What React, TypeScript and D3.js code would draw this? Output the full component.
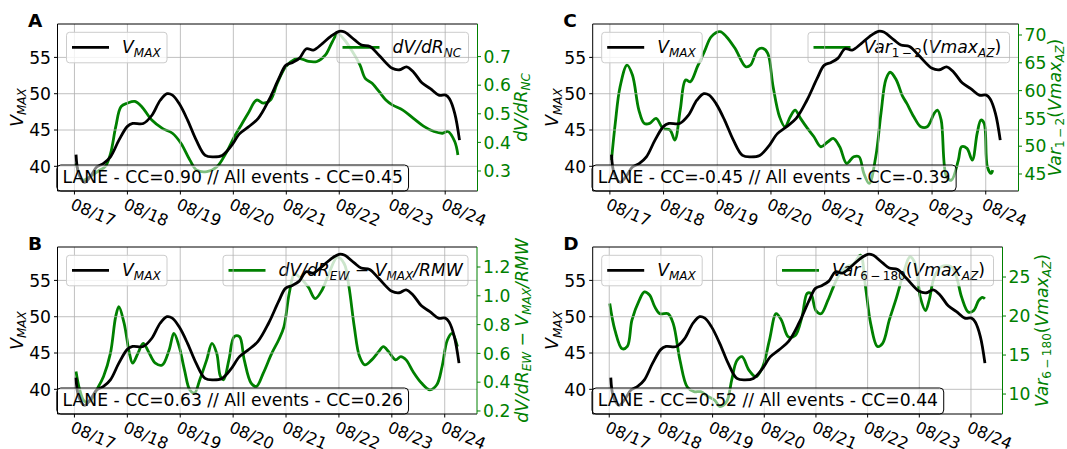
import React from "react";
import * as d3 from "d3";

// ---------- DATA ----------
const dayTicks = [0, 1, 2, 3, 4, 5, 6, 7];
const dayLabels = ["08/17", "08/18", "08/19", "08/20", "08/21", "08/22", "08/23", "08/24"];
const vmaxTicks = [40, 45, 50, 55];

const vmaxDays = [0.03, 0.08, 0.19, 0.3, 0.42, 0.55, 0.68, 0.84, 1.0, 1.1, 1.3, 1.46, 1.62, 1.75, 1.85, 1.98, 2.14, 2.3, 2.47, 2.63, 2.79, 2.95, 3.12, 3.28, 3.47, 3.67, 3.86, 3.99, 4.12, 4.25, 4.38, 4.51, 4.68, 4.84, 5.0, 5.1, 5.29, 5.42, 5.58, 5.75, 6.0, 6.14, 6.27, 6.4, 6.56, 6.72, 6.88, 7.01, 7.08, 7.18, 7.27];
const vmaxValues = [41.6, 39.0, 37.8, 38.6, 39.9, 40.4, 41.3, 43.6, 45.5, 45.9, 45.9, 47.0, 49.1, 50.0, 49.8, 48.6, 46.3, 43.6, 41.5, 41.3, 41.5, 42.7, 44.5, 45.4, 46.6, 49.1, 52.1, 53.9, 54.3, 54.9, 56.2, 56.0, 56.9, 57.9, 58.6, 58.5, 57.4, 56.7, 56.5, 55.3, 53.5, 53.3, 53.7, 53.0, 51.5, 50.7, 49.8, 49.8, 49.3, 47.3, 43.6];

const dvdrNcDays = [0.03, 0.16, 0.29, 0.45, 0.58, 0.68, 0.78, 0.88, 1.0, 1.14, 1.27, 1.46, 1.66, 1.85, 2.01, 2.18, 2.31, 2.5, 2.69, 2.86, 3.02, 3.15, 3.28, 3.44, 3.57, 3.7, 3.83, 3.99, 4.16, 4.25, 4.42, 4.58, 4.74, 4.87, 4.97, 5.1, 5.23, 5.39, 5.49, 5.62, 5.75, 5.88, 6.0, 6.2, 6.4, 6.59, 6.79, 6.95, 7.05, 7.18, 7.24];
const dvdrNcValues = [0.327, 0.268, 0.28, 0.3, 0.315, 0.36, 0.455, 0.525, 0.537, 0.543, 0.525, 0.478, 0.449, 0.432, 0.397, 0.338, 0.303, 0.298, 0.315, 0.362, 0.42, 0.461, 0.502, 0.548, 0.537, 0.548, 0.607, 0.665, 0.691, 0.694, 0.683, 0.683, 0.706, 0.752, 0.78, 0.758, 0.723, 0.671, 0.624, 0.607, 0.578, 0.548, 0.531, 0.513, 0.484, 0.457, 0.438, 0.432, 0.438, 0.403, 0.356];

const dvdrEwDays = [0.03, 0.1, 0.19, 0.29, 0.42, 0.55, 0.68, 0.78, 0.84, 0.94, 1.04, 1.1, 1.2, 1.3, 1.4, 1.53, 1.66, 1.79, 1.88, 1.98, 2.08, 2.18, 2.27, 2.37, 2.5, 2.6, 2.69, 2.76, 2.82, 2.92, 3.02, 3.12, 3.21, 3.34, 3.44, 3.57, 3.73, 3.86, 3.96, 4.06, 4.16, 4.25, 4.42, 4.55, 4.68, 4.81, 4.97, 5.1, 5.19, 5.29, 5.39, 5.49, 5.62, 5.75, 5.84, 5.94, 6.07, 6.17, 6.27, 6.4, 6.56, 6.72, 6.85, 6.95, 7.05, 7.14, 7.24];
const dvdrEwValues = [0.474, 0.347, 0.267, 0.267, 0.347, 0.44, 0.6, 0.855, 0.924, 0.808, 0.6, 0.532, 0.6, 0.67, 0.612, 0.532, 0.52, 0.624, 0.739, 0.647, 0.486, 0.347, 0.324, 0.417, 0.555, 0.67, 0.6, 0.44, 0.417, 0.555, 0.716, 0.716, 0.555, 0.394, 0.371, 0.463, 0.6, 0.693, 0.785, 1.016, 1.154, 1.131, 1.062, 0.981, 1.039, 1.154, 1.269, 1.223, 1.062, 0.785, 0.578, 0.52, 0.555, 0.612, 0.647, 0.612, 0.555, 0.578, 0.555, 0.474, 0.394, 0.347, 0.382, 0.509, 0.693, 0.739, 0.647];

const var12Days = [0.03, 0.1, 0.19, 0.32, 0.42, 0.54, 0.64, 0.74, 0.86, 0.99, 1.12, 1.21, 1.31, 1.41, 1.5, 1.63, 1.76, 1.89, 2.05, 2.17, 2.33, 2.53, 2.62, 2.75, 2.85, 2.94, 3.04, 3.16, 3.26, 3.36, 3.45, 3.55, 3.68, 3.8, 3.93, 4.06, 4.16, 4.28, 4.41, 4.54, 4.64, 4.73, 4.83, 4.95, 5.05, 5.14, 5.22, 5.33, 5.45, 5.53, 5.66, 5.79, 5.91, 6.04, 6.1, 6.17, 6.27, 6.36, 6.49, 6.55, 6.65, 6.75, 6.84, 6.91, 6.97, 7.03, 7.1, 7.13];
const var12Values = [47.5, 54.1, 60.7, 64.6, 62.8, 56.5, 54.1, 54.1, 55.0, 53.2, 52.9, 51.1, 56.5, 61.9, 61.6, 64.3, 67.0, 69.7, 70.6, 69.7, 67.6, 64.3, 64.6, 67.3, 67.6, 66.7, 60.7, 55.3, 53.5, 55.3, 56.5, 55.0, 53.2, 51.7, 49.9, 50.8, 51.4, 49.9, 46.9, 48.1, 48.1, 45.1, 43.3, 48.0, 56.0, 62.0, 63.3, 62.0, 59.0, 57.7, 55.3, 53.5, 53.5, 55.9, 56.5, 54.7, 44.5, 43.9, 47.5, 49.9, 49.6, 47.5, 52.3, 54.7, 54.1, 46.3, 45.1, 45.7];

const var6180Days = [0.01, 0.11, 0.25, 0.35, 0.44, 0.58, 0.68, 0.78, 0.88, 0.98, 1.14, 1.24, 1.37, 1.51, 1.64, 1.77, 1.91, 2.04, 2.14, 2.27, 2.37, 2.47, 2.57, 2.7, 2.84, 2.97, 3.1, 3.23, 3.33, 3.47, 3.6, 3.73, 3.83, 3.9, 4.0, 4.1, 4.23, 4.36, 4.46, 4.59, 4.73, 4.86, 4.96, 5.06, 5.19, 5.29, 5.42, 5.56, 5.69, 5.82, 5.92, 6.02, 6.12, 6.19, 6.29, 6.42, 6.62, 6.72, 6.82, 6.95, 7.05, 7.15, 7.22, 7.27];
const var6180Values = [21.6, 18.2, 15.8, 16.1, 19.5, 22.0, 23.1, 22.7, 21.2, 20.3, 20.3, 19.0, 14.3, 10.9, 10.3, 10.3, 9.7, 9.2, 8.4, 9.0, 11.8, 14.3, 14.8, 13.1, 12.2, 13.5, 16.9, 20.3, 19.5, 17.3, 17.5, 19.9, 22.9, 22.9, 20.7, 20.3, 22.0, 24.1, 25.4, 26.3, 26.7, 27.8, 23.7, 19.0, 16.1, 16.5, 19.5, 22.4, 25.4, 27.6, 26.7, 22.4, 20.7, 22.0, 25.0, 26.3, 26.3, 25.0, 22.4, 20.5, 20.7, 22.0, 22.4, 22.2];

const ticksA = [0.3, 0.4, 0.5, 0.6, 0.7];
const ticksB = [0.2, 0.4, 0.6, 0.8, 1.0, 1.2];
const ticksC = [45, 50, 55, 60, 65, 70];
const ticksD = [10, 15, 20, 25];

// ---------- LAYOUT ----------
const W = 1067;
const H = 449;
const FONT = "'DejaVu Sans', sans-serif";
const FS = 17.2;
const XFS = 16.2;
const XROT = 23;
const GREEN = "#008000";
const xDomain = [-0.32, 7.61];
const vmaxDomain = [36.6, 59.6];

type Seg = { t: string; it?: boolean; sub?: boolean };

const vmaxLabel: Seg[] = [{ t: "V", it: true }, { t: "MAX", it: true, sub: true }];

type PanelCfg = {
  letter: string;
  frame: { l: number; r: number; t: number; b: number };
  rightDomain: number[];
  rightTicks: number[];
  fmt: (v: number) => string;
  greenDays: number[];
  greenValues: number[];
  rightLabel: Seg[];
  rightLabelX: number;
  legendWidth: number;
  annotation: string;
};

const panels: PanelCfg[] = [
  {
    letter: "A",
    frame: { l: 57.5, r: 477.5, t: 24, b: 191 },
    rightDomain: [0.23, 0.814],
    rightTicks: ticksA,
    fmt: (v) => v.toFixed(1),
    greenDays: dvdrNcDays,
    greenValues: dvdrNcValues,
    rightLabel: [{ t: "dV/dR", it: true }, { t: "NC", it: true, sub: true }],
    rightLabelX: 527,
    legendWidth: 131.5,
    annotation: "LANE - CC=0.90 // All events - CC=0.45",
  },
  {
    letter: "B",
    frame: { l: 57.5, r: 477, t: 247, b: 414 },
    rightDomain: [0.179, 1.339],
    rightTicks: ticksB,
    fmt: (v) => v.toFixed(1),
    greenDays: dvdrEwDays,
    greenValues: dvdrEwValues,
    rightLabel: [
      { t: "dV/dR", it: true },
      { t: "EW", it: true, sub: true },
      { t: " \u2212 " },
      { t: "V", it: true },
      { t: "MAX", it: true, sub: true },
      { t: "/RMW", it: true },
    ],
    rightLabelX: 528,
    legendWidth: 245,
    annotation: "LANE - CC=0.63 // All events - CC=0.26",
  },
  {
    letter: "C",
    frame: { l: 592.7, r: 1018.5, t: 24, b: 191 },
    rightDomain: [41.94, 71.98],
    rightTicks: ticksC,
    fmt: (v) => String(v),
    greenDays: var12Days,
    greenValues: var12Values,
    rightLabel: [
      { t: "Var", it: true },
      { t: "1\u2009\u2212\u20092", sub: true },
      { t: "(" },
      { t: "Vmax", it: true },
      { t: "AZ", it: true, sub: true },
      { t: ")" },
    ],
    rightLabelX: 1061,
    legendWidth: 201.5,
    annotation: "LANE - CC=-0.45 // All events - CC=-0.39",
  },
  {
    letter: "D",
    frame: { l: 592.7, r: 1002.5, t: 247, b: 414 },
    rightDomain: [7.44, 28.85],
    rightTicks: ticksD,
    fmt: (v) => String(v),
    greenDays: var6180Days,
    greenValues: var6180Values,
    rightLabel: [
      { t: "Var", it: true },
      { t: "6\u2009\u2212\u2009180", sub: true },
      { t: "(" },
      { t: "Vmax", it: true },
      { t: "AZ", it: true, sub: true },
      { t: ")" },
    ],
    rightLabelX: 1048,
    legendWidth: 217,
    annotation: "LANE - CC=0.52 // All events - CC=0.44",
  },
];

let _ctx: CanvasRenderingContext2D | null = null;
function textWidth(s: string, font: string): number {
  if (!_ctx) _ctx = document.createElement("canvas").getContext("2d");
  if (!_ctx) return s.length * 9;
  _ctx.font = font;
  return _ctx.measureText(s).width;
}

function rich(segs: Seg[], fs: number) {
  const shift = fs * 0.2;
  let inSub = false;
  return segs.map((s, i) => {
    let dy = 0;
    if (s.sub && !inSub) dy = shift;
    if (!s.sub && inSub) dy = -shift;
    inSub = !!s.sub;
    return (
      <tspan key={i} dy={dy || undefined} fontStyle={s.it ? "italic" : "normal"} fontSize={s.sub ? fs * 0.7 : fs}>
        {s.t}
      </tspan>
    );
  });
}

function Panel({ p }: { p: PanelCfg }) {
  const f = p.frame;
  const x = d3.scaleLinear().domain(xDomain).range([f.l, f.r]);
  const yL = d3.scaleLinear().domain(vmaxDomain).range([f.b, f.t]);
  const yR = d3.scaleLinear().domain(p.rightDomain).range([f.b, f.t]);
  const curve = d3.curveCatmullRom.alpha(0.5);
  const blackPath =
    d3
      .line<number>()
      .x((_, i) => x(vmaxDays[i]))
      .y((d) => yL(d))
      .curve(curve)(vmaxValues) || "";
  const greenPath =
    d3
      .line<number>()
      .x((_, i) => x(p.greenDays[i]))
      .y((d) => yR(d))
      .curve(curve)(p.greenValues) || "";
  const clipId = `clip-${p.letter}`;
  const cy = (f.t + f.b) / 2;
  const annW = textWidth(p.annotation, `${FS}px 'DejaVu Sans'`) + 11.5;
  const legT = f.t + 8.3;
  const legH = 30.5;
  const lx0 = f.l + 9;
  const lx1 = f.l + 109.5;
  const rx1 = f.r - 9;
  const rx0 = rx1 - p.legendWidth;
  const leftLabelX = f.l - 34.5;

  return (
    <g fontFamily={FONT} fontSize={FS}>
      <defs>
        <clipPath id={clipId}>
          <rect x={f.l} y={f.t} width={f.r - f.l} height={f.b - f.t} />
        </clipPath>
      </defs>
      {/* green series (twin axis) */}
      <path d={greenPath} fill="none" stroke={GREEN} strokeWidth={2.8} clipPath={`url(#${clipId})`} />
      {/* right legend */}
      <rect x={rx0} y={legT} width={rx1 - rx0} height={legH} rx={3} fill="#fff" fillOpacity={0.8} stroke="#cccccc" strokeWidth={1} />
      <line x1={rx0 + 5.5} x2={rx0 + 42.5} y1={legT + 15} y2={legT + 15} stroke={GREEN} strokeWidth={2.8} />
      <text x={rx0 + 55.5} y={legT + 21} fill="#000" style={{ whiteSpace: "pre" }}>
        {rich(p.rightLabel, FS)}
      </text>
      {/* grid */}
      {dayTicks.map((d) => (
        <line key={`gx${d}`} x1={x(d)} x2={x(d)} y1={f.t} y2={f.b} stroke="#b0b0b0" strokeWidth={0.8} />
      ))}
      {vmaxTicks.map((v) => (
        <line key={`gy${v}`} x1={f.l} x2={f.r} y1={yL(v)} y2={yL(v)} stroke="#b0b0b0" strokeWidth={0.8} />
      ))}
      {/* black series */}
      <path d={blackPath} fill="none" stroke="#000" strokeWidth={2.8} clipPath={`url(#${clipId})`} />
      {/* left legend */}
      <rect x={lx0} y={legT} width={lx1 - lx0} height={legH} rx={3} fill="#fff" fillOpacity={0.8} stroke="#cccccc" strokeWidth={1} />
      <line x1={lx0 + 5.5} x2={lx0 + 42.5} y1={legT + 15} y2={legT + 15} stroke="#000" strokeWidth={2.8} />
      <text x={lx0 + 55.5} y={legT + 21} fill="#000">
        {rich(vmaxLabel, FS)}
      </text>
      {/* annotation */}
      <rect x={f.l - 0.7} y={f.b - 26} width={annW} height={26} rx={4} fill="#fff" fillOpacity={0.5} stroke="#000" strokeWidth={1} />
      <text x={f.l - 0.7 + 5.8} y={f.b - 8.5} fill="#000" style={{ whiteSpace: "pre" }}>
        {p.annotation}
      </text>
      {/* spines */}
      <line x1={f.l} x2={f.r} y1={f.t} y2={f.t} stroke="#000" strokeWidth={1} />
      <line x1={f.l} x2={f.r} y1={f.b} y2={f.b} stroke="#000" strokeWidth={1} />
      <line x1={f.l} x2={f.l} y1={f.t} y2={f.b} stroke="#000" strokeWidth={1} />
      <line x1={f.r} x2={f.r} y1={f.t} y2={f.b} stroke={GREEN} strokeWidth={1} />
      {/* left ticks */}
      {vmaxTicks.map((v) => (
        <g key={`ly${v}`}>
          <line x1={f.l - 3.5} x2={f.l} y1={yL(v)} y2={yL(v)} stroke="#000" strokeWidth={1} />
          <text x={f.l - 6.5} y={yL(v)} dy="0.36em" textAnchor="end" fill="#000">
            {v}
          </text>
        </g>
      ))}
      {/* right ticks */}
      {p.rightTicks.map((v) => (
        <g key={`ry${v}`}>
          <line x1={f.r} x2={f.r + 3.5} y1={yR(v)} y2={yR(v)} stroke={GREEN} strokeWidth={1} />
          <text x={f.r + 6} y={yR(v)} dy="0.36em" textAnchor="start" fill={GREEN}>
            {p.fmt(v)}
          </text>
        </g>
      ))}
      {/* x ticks */}
      {dayTicks.map((d, i) => (
        <g key={`xt${d}`}>
          <line x1={x(d)} x2={x(d)} y1={f.b} y2={f.b + 3.5} stroke="#000" strokeWidth={1} />
          <text
            transform={`translate(${x(d) - 5},${f.b + 17.5}) rotate(${XROT})`}
            textAnchor="start"
            fontSize={XFS}
            fill="#000"
          >
            {dayLabels[i]}
          </text>
        </g>
      ))}
      {/* axis labels */}
      <text transform={`translate(${leftLabelX},${cy}) rotate(-90)`} textAnchor="middle" fill="#000">
        {rich(vmaxLabel, FS)}
      </text>
      <text
        transform={`translate(${p.rightLabelX},${cy}) rotate(-90)`}
        textAnchor="middle"
        fill={GREEN}
        style={{ whiteSpace: "pre" }}
      >
        {rich(p.rightLabel, FS)}
      </text>
      {/* panel letter */}
      <text x={f.l - 29.5} y={f.t + 2.5} fontWeight="bold" fontSize={18.5} fill="#000">
        {p.letter}
      </text>
    </g>
  );
}

export default function App() {
  return (
    <svg
      width={W}
      height={H}
      viewBox={`0 0 ${W} ${H}`}
      style={{ position: "absolute", left: 0, top: 0, background: "#fff" }}
    >
      <rect x={0} y={0} width={W} height={H} fill="#fff" />
      {panels.map((p) => (
        <Panel key={p.letter} p={p} />
      ))}
    </svg>
  );
}
